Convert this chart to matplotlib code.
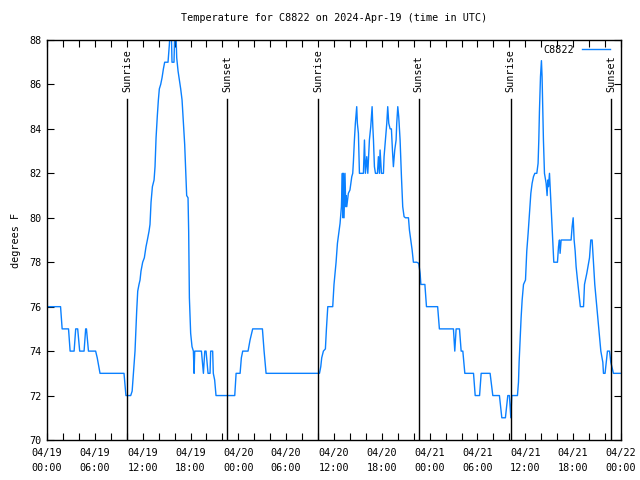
import matplotlib
matplotlib.use("Agg")
import matplotlib.pyplot as plt
from matplotlib.ticker import MultipleLocator

# hours since 2024-04-19 00:00 UTC
hours = [
    0.0, 1.7, 1.9, 2.7, 2.9, 3.4, 3.6, 3.85, 4.1, 4.65, 4.85, 4.95, 5.2, 6.1, 6.3, 6.45, 6.65,
    9.66, 9.9, 10.5, 10.68, 10.84, 11.04, 11.25, 11.38, 11.54, 11.67, 11.79, 12.0, 12.21, 12.42,
    12.59, 12.8, 12.92, 13.05, 13.22, 13.43, 13.55, 13.68, 13.84, 13.97, 14.09, 14.26, 14.43,
    14.6, 14.76, 15.18, 15.35, 15.43, 15.6, 15.68, 15.93, 16.02, 16.18, 16.27, 16.44, 16.6,
    16.77, 16.94, 17.1, 17.27, 17.44, 17.52, 17.69, 17.77, 17.86, 18.02, 18.19, 18.36, 18.45,
    18.53, 19.37, 19.62, 19.79, 19.95, 20.2, 20.45, 20.53, 20.78, 20.86, 21.03, 21.2, 23.55,
    23.72, 24.22, 24.38, 24.55, 25.22, 25.47, 25.8, 27.02, 27.23, 27.48,
    34.18, 34.34, 34.46, 34.67, 34.92, 35.05, 35.22, 35.84, 36.0, 36.26, 36.43, 36.6, 36.76,
    36.93, 37.05, 37.12, 37.18, 37.26, 37.38, 37.47, 37.51, 37.6, 37.8, 38.0, 38.23, 38.35,
    38.43, 38.56, 38.68, 38.85, 38.93, 39.06, 39.19, 39.69, 39.82, 39.94, 40.11, 40.24, 40.44,
    40.61, 40.78, 40.87, 40.95, 41.07, 41.2, 41.45, 41.57, 41.7, 41.78, 41.95, 42.2, 42.28,
    42.45, 42.62, 42.74, 42.87, 43.04, 43.2, 43.33, 43.45, 43.62, 43.79, 43.87, 44.0, 44.12,
    44.29, 44.46, 44.62, 44.79, 44.96, 45.34, 45.46, 45.63, 45.8, 45.96, 46.38, 46.63, 46.8,
    46.9, 47.4, 47.6, 49.0, 49.22, 50.98, 51.15, 51.32, 51.74, 51.95, 52.16, 52.41, 53.5,
    53.71, 54.26, 54.46, 55.58, 55.92, 56.75, 57.05, 57.5, 57.8, 58.0, 58.18, 58.3, 59.01,
    59.14, 59.22, 59.35, 59.47, 59.6, 59.77, 60.02, 60.18, 60.35, 60.52, 60.69, 60.85, 61.02,
    61.19, 61.44, 61.6, 61.69, 61.77, 61.9, 62.02, 62.1, 62.19, 62.27, 62.4, 62.61, 62.73,
    62.82, 62.9, 63.03, 63.11, 63.24, 63.36, 63.49, 63.57, 64.03, 64.16, 64.28, 64.36, 64.49,
    65.74, 65.87, 66.0, 66.12, 66.25, 66.37, 66.54, 66.9, 67.3, 67.42, 67.71, 68.05, 68.21,
    68.38, 68.55, 68.71, 68.96, 69.22, 69.47, 69.72, 69.8, 70.0, 70.3, 70.56, 70.72, 71.05, 71.9,
]
temps = [
    76, 76, 75, 75, 74, 74, 75, 75, 74, 74, 75, 75, 74, 74, 73.7, 73.4, 73,
    73, 72, 72, 72.2, 73, 74, 75.8, 76.7, 77, 77.2, 77.6, 78, 78.2, 78.7,
    79, 79.4, 79.7, 80.7, 81.4, 81.7, 82.3, 83.6, 84.6, 85.3, 85.8, 86, 86.3,
    86.7, 87, 87, 87.8, 88.3, 88.3, 87, 87, 88.3, 88.3, 87.2, 86.6, 86.2,
    85.8, 85.3, 84.3, 83.3, 81.8, 81, 80.9, 79.4, 76.4, 74.8, 74.2, 74, 73,
    74, 74, 73, 74, 74, 73, 73, 74, 74, 73, 72.7, 72, 72,
    73, 73, 73.7, 74, 74, 74.5, 75, 75, 74, 73,
    73, 73.3, 73.7, 74, 74.1, 75, 76, 76, 77, 78, 78.85, 79.3, 79.75,
    80.5, 82, 80, 82, 80, 82, 80.5, 81, 80.5, 81.1, 81.25, 81.85, 82,
    82.5, 83.5, 84.25, 85, 84.25, 83.8, 82, 82, 83.5, 82, 82.75, 82, 83.5,
    84.1, 85, 84.1, 83.5, 82.3, 82, 82, 82.75, 82, 83.05, 82, 82, 82.75,
    83.5, 84.25, 85, 84.25, 84, 84, 83.05, 82.3, 83.05, 83.5, 84.25, 85, 84.55,
    83.5, 81.85, 80.5, 80.05, 80, 80, 79.45, 79, 78.55, 78, 78, 77.95, 77.5,
    77, 77, 76, 76, 75, 75, 74, 75, 75, 74, 74, 73, 73,
    72, 72, 73, 73, 72, 72, 71, 71, 72, 72, 71, 72, 72,
    72.6, 73.5, 74.5, 75.5, 76.3, 77, 77.2, 78.5, 79.3, 80.2, 81.1, 81.55, 81.85,
    82, 82, 82.45, 83.5, 84.8, 86.35, 87.07, 86.35, 84.8, 83.5, 82, 81.55, 81,
    81.7, 81.4, 82, 81.4, 80.5, 79.5, 78.5, 78, 78, 78.7, 79, 78.4, 79,
    79, 79.6, 80, 79, 78.5, 77.8, 77.2, 76, 76, 77, 77.5, 78.2, 79,
    79, 78, 77, 76, 75, 74, 73.5, 73, 73, 74, 74, 73.5, 73, 73,
]

sun_hours = [10.08, 22.63, 34.05, 46.63, 58.18, 70.73]
sun_labels = ["Sunrise", "Sunset", "Sunrise", "Sunset", "Sunrise", "Sunset"]

tick_hours = list(range(0, 73, 6))
tick_labels = [
    "04/19\n00:00", "04/19\n06:00", "04/19\n12:00", "04/19\n18:00",
    "04/20\n00:00", "04/20\n06:00", "04/20\n12:00", "04/20\n18:00",
    "04/21\n00:00", "04/21\n06:00", "04/21\n12:00", "04/21\n18:00",
    "04/22\n00:00",
]

plt.rcParams["font.family"] = "DejaVu Sans Mono"
plt.rcParams["font.size"] = 7.3

fig = plt.figure(figsize=(6.4, 4.8), dpi=100)
ax = fig.add_axes([47 / 640, 40 / 480, 574 / 640, 400 / 480])

ax.plot(hours, temps, color="#0a80ff", linewidth=1.0, label="C8822")

for h, name in zip(sun_hours, sun_labels):
    ax.plot([h, h], [70, 85.35], color="black", linewidth=1.0)
    ax.text(h, 85.65, name, rotation=90, ha="center", va="bottom")

ax.set_xlim(0, 72)
ax.set_ylim(70, 88)
ax.set_xticks(tick_hours)
ax.set_xticklabels(tick_labels, linespacing=1.6)
ax.xaxis.set_minor_locator(MultipleLocator(2))
ax.yaxis.set_major_locator(MultipleLocator(2))
ax.tick_params(which="both", direction="in", top=True, right=True, length=5, width=0.8)
ax.tick_params(axis="x", pad=6)
ax.tick_params(axis="y", pad=4)
for spine in ax.spines.values():
    spine.set_linewidth(1.0)

ax.set_ylabel("degrees F", labelpad=6)
ax.set_title("Temperature for C8822 on 2024-Apr-19 (time in UTC)", pad=14, fontsize=7.3)

leg = ax.legend(loc="upper right", bbox_to_anchor=(0.9895, 1.0), frameon=False,
                handlelength=2.85, markerfirst=False, borderaxespad=0.1,
                borderpad=0.35, handletextpad=0.7)

fig.savefig("out.png", dpi=100)
